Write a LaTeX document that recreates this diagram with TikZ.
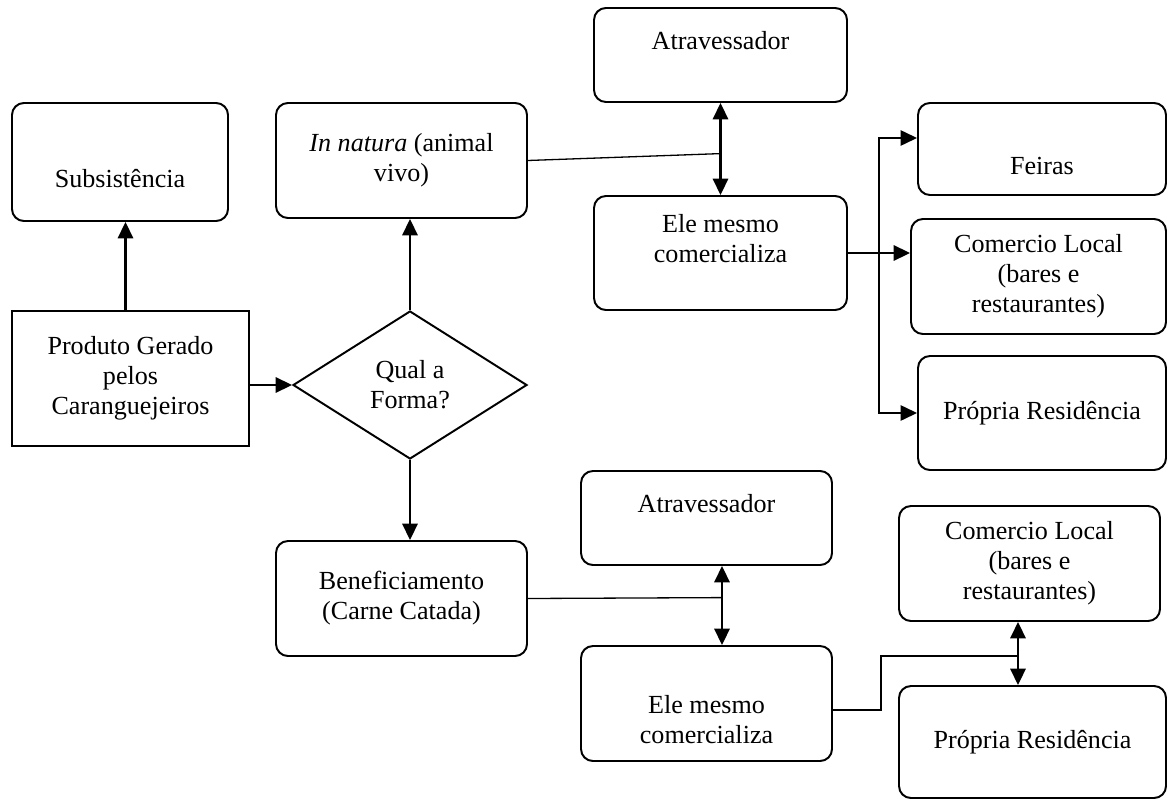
\documentclass[tikz,border=0pt]{standalone}
\usepackage{fontspec}
\setmainfont{Liberation Serif}
\usetikzlibrary{arrows.meta,calc,shapes.geometric}

\begin{document}
\begin{tikzpicture}[x=0.46pt,y=-0.46pt,font=\fontsize{12}{13.8}\selectfont,
  sz/.style 2 args={minimum width=#1*0.46pt,minimum height=#2*0.46pt},
  box/.style={draw,line width=0.9pt,rounded corners=5.5pt,align=center,inner sep=2pt},
  plainbox/.style={draw,line width=0.9pt,align=center,inner sep=2pt},
  choice/.style={diamond,draw,line width=0.9pt,align=center,inner sep=0pt},
  arrow/.style={-{Triangle[length=7.5pt,width=7pt]},line width=1.1pt},
  twoway/.style={{Triangle[length=7.5pt,width=7pt]}-{Triangle[length=7.5pt,width=7pt]},line width=1.1pt},
  link/.style={line width=0.6pt}]
\useasboundingbox (0,0) rectangle (1168,800);
% left part
\node[box,sz={216}{118}] (subs) at (120,162) {\strut\\Subsistência};
\node[plainbox,sz={237}{135}] (prod) at (130.5,378.5) {Produto Gerado\\pelos\\Caranguejeiros};
\node[choice,minimum width=234*0.46pt,minimum height=148*0.46pt] (forma) at (410,385) {Qual a\\Forma?};
\node[box,sz={251}{115}] (natura) at (401.5,160.5) {\textit{In natura} (animal\\vivo)};
\node[box,sz={251}{115}] (benef) at (401.5,598.5) {Beneficiamento\\(Carne Catada)};
% in natura branch
\node[box,sz={253}{94}] (atr1) at (720.5,55) {Atravessador\\~};
\node[box,sz={253}{114}] (ele1) at (720.5,253) {Ele mesmo\\comercializa\\~};
\node[box,sz={248}{92}] (feiras) at (1042,149) {\strut\\Feiras};
\node[box,sz={255}{115}] (com1) at (1038.5,276.5) {Comercio Local\\(bares e\\restaurantes)};
\node[box,sz={248}{114}] (prop1) at (1042,413) {Própria Residência};
% beneficiamento branch
\node[box,sz={251}{94}] (atr2) at (706.5,518) {Atravessador\\~};
\node[box,sz={251}{115}] (ele2) at (706.5,703.5) {\strut\\Ele mesmo\\comercializa};
\node[box,sz={261}{115}] (com2) at (1029.5,563.5) {Comercio Local\\(bares e\\restaurantes)};
\node[box,sz={267}{112}] (prop2) at (1032.5,742) {Própria Residência};
% connectors
\draw[arrow] ($(prod.north)+(-5,0)$) coordinate (p1) -- (p1 |- subs.south);
\draw[arrow] (prod.east |- forma.west) -- (forma.west);
\draw[arrow] (forma.north) -- (forma.north |- natura.south);
\draw[arrow] (forma.south) -- (forma.south |- benef.north);
\draw[twoway] (atr1.south) -- (ele1.north);
\draw[link] (natura.east) -- ($(atr1.south)!0.55!(ele1.north)$);
\draw[line width=1.1pt] (ele1.east) -- ++(31,0) coordinate (b1);
\draw[arrow] (b1) -- (b1 -| com1.west);
\draw[arrow,line width=0.8pt] (b1) |- ($(feiras.west)+(0,-11)$);
\draw[arrow,line width=0.8pt] (b1) |- (prop1.west);
\coordinate (a1) at ($(atr2.south)+(15.5,0)$);
\draw[twoway] (a1) -- (a1 |- ele2.north);
\draw[link] (benef.east) -- ($(a1)!0.4!(a1 |- ele2.north)$);
\coordinate (a2) at ($(com2.south)+(-11.5,0)$);
\draw[twoway] (a2) -- (a2 |- prop2.north);
\draw[link] ($(ele2.east)+(0,6.5)$) -- ++(48,0) |- ($(a2)!0.54!(a2 |- prop2.north)$);
\end{tikzpicture}
\end{document}
